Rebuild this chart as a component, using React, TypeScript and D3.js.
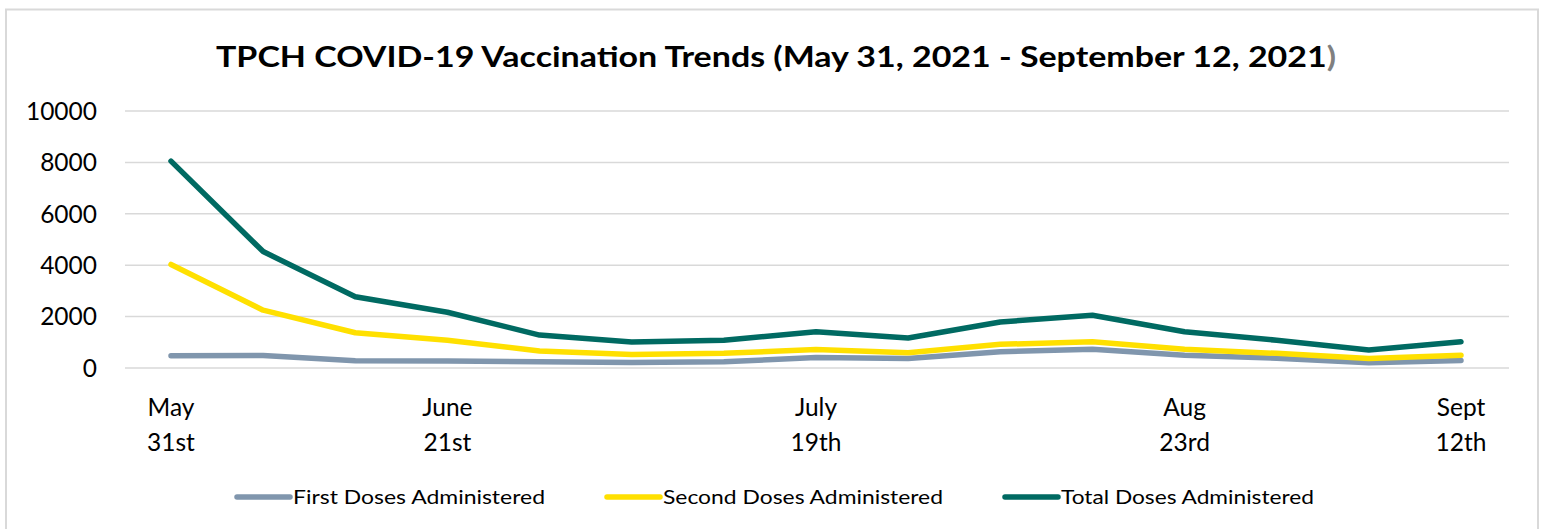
import React from "react";
import * as d3 from "d3";

const categories = [
  "May 31", "Jun 7", "Jun 14", "Jun 21", "Jun 28", "Jul 5", "Jul 12", "Jul 19",
  "Jul 26", "Aug 2", "Aug 9", "Aug 23", "Aug 30", "Sep 6", "Sep 12",
];
const firstDoses = [480, 490, 280, 270, 240, 210, 240, 410, 370, 630, 730, 500, 380, 200, 290];
const secondDoses = [4030, 2250, 1370, 1080, 660, 530, 570, 720, 590, 920, 1020, 730, 570, 370, 500];
const totalDoses = [8050, 4530, 2770, 2170, 1280, 1010, 1080, 1410, 1170, 1790, 2050, 1410, 1080, 700, 1020];
const yTicks = [0, 2000, 4000, 6000, 8000, 10000];
const xTickLabels = [
  { cat: "May 31", l1: "May", l2: "31st" },
  { cat: "Jun 21", l1: "June", l2: "21st" },
  { cat: "Jul 19", l1: "July", l2: "19th" },
  { cat: "Aug 23", l1: "Aug", l2: "23rd" },
  { cat: "Sep 12", l1: "Sept", l2: "12th" },
];
const seriesNames = ["First Doses Administered", "Second Doses Administered", "Total Doses Administered"];
const seriesColors = ["#8096ad", "#ffe000", "#006a62"];

const FONT = "Lato, 'Open Sans', sans-serif";

export default function App() {
  const W = 1544, H = 529;
  const x = d3.scalePoint<string>().domain(categories).range([171, 1461]);
  const y = d3.scaleLinear().domain([0, 10000]).range([368, 111]);
  const line = d3
    .line<number>()
    .x((_, i) => x(categories[i]) as number)
    .y((d) => y(d));
  const series = [firstDoses, secondDoses, totalDoses];
  const legendX = [237, 607, 1005];
  const legendTextLen = [252, 280, 253];

  return (
    <svg
      width={W}
      height={H}
      style={{ position: "absolute", left: 0, top: 0, background: "#fff" }}
      fontFamily={FONT}
    >
      <rect x={6} y={9.5} width={1532} height={540} fill="#fff" stroke="#d9d9d9" strokeWidth={2} />
      <text
        x={216}
        y={67}
        fontSize={29}
        fontWeight="bold"
        fill="#000"
        textLength={1120}
        lengthAdjust="spacingAndGlyphs"
      >
        TPCH COVID-19 Vaccination Trends (May 31, 2021 - September 12, 2021
        <tspan fill="#808080">)</tspan>
      </text>
      {yTicks.map((t) => (
        <g key={t}>
          <line x1={125} x2={1509} y1={y(t)} y2={y(t)} stroke="#d9d9d9" strokeWidth={1.5} />
          <text x={97} y={y(t)} dy="0.36em" textAnchor="end" fontSize={24.5} fill="#000">
            {t}
          </text>
        </g>
      ))}
      {xTickLabels.map((t) => (
        <g key={t.cat}>
          <text x={x(t.cat)} y={416} textAnchor="middle" fontSize={24.5} fill="#000">
            {t.l1}
          </text>
          <text x={x(t.cat)} y={451} textAnchor="middle" fontSize={24.5} fill="#000">
            {t.l2}
          </text>
        </g>
      ))}
      {series.map((s, i) => (
        <path
          key={i}
          d={line(s) || ""}
          fill="none"
          stroke={seriesColors[i]}
          strokeWidth={5.5}
          strokeLinecap="round"
          strokeLinejoin="round"
        />
      ))}
      {seriesNames.map((n, i) => (
        <g key={n}>
          <line
            x1={legendX[i]}
            x2={legendX[i] + 53}
            y1={497}
            y2={497}
            stroke={seriesColors[i]}
            strokeWidth={5.5}
            strokeLinecap="round"
          />
          <text
            x={legendX[i] + 56}
            y={497}
            dy="0.36em"
            fontSize={19.5}
            fill="#000"
            textLength={legendTextLen[i]}
            lengthAdjust="spacingAndGlyphs"
          >
            {n}
          </text>
        </g>
      ))}
    </svg>
  );
}
